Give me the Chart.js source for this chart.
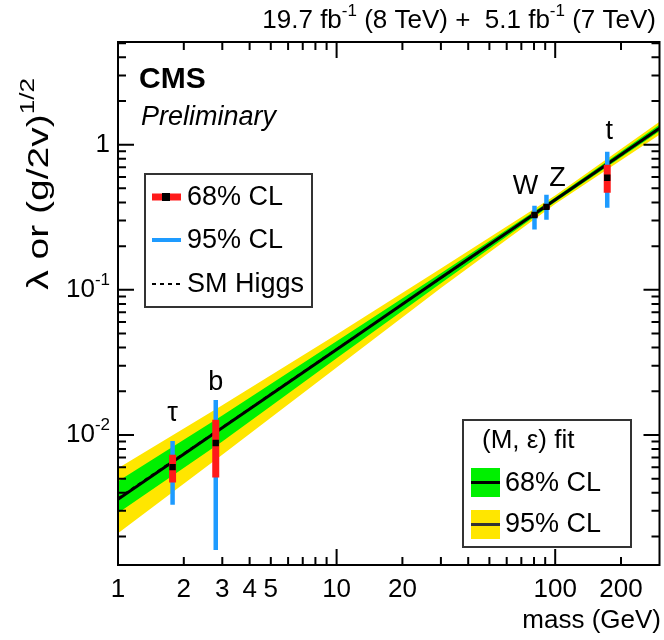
<!DOCTYPE html>
<html>
<head>
<meta charset="utf-8">
<script src="https://cdn.jsdelivr.net/npm/chart.js@4.4.1/dist/chart.umd.min.js"></script>
<style>
  body { margin: 0; background: #fff; }
  #wrap { width: 664px; height: 640px; }
</style>
</head>
<body>
<div id="wrap"><canvas id="myChart" width="664" height="640"></canvas></div>
<script>
// measured couplings
const particles = ['τ', 'b', 'W', 'Z', 't'];
const masses = [1.777, 2.8, 80.4, 91.2, 173];
const central = [0.0060, 0.0088, 0.328, 0.373, 0.592];
const cl68Lo = [0.0047, 0.0051, 0.318, 0.362, 0.467];
const cl68Hi = [0.0073, 0.0127, 0.338, 0.384, 0.728];
const cl95Lo = [0.0033, 0.00161, 0.26, 0.304, 0.368];
const cl95Hi = [0.0091, 0.0174, 0.38, 0.452, 0.895];

// (M, eps) fit and its bands
const fitMass = [1, 3, 10, 30, 100, 300];
const fitLine = [0.0036, 0.0112, 0.0388, 0.121, 0.418, 1.30];
const band68Hi = [0.0048, 0.0136, 0.0442, 0.130, 0.433, 1.37];
const band68Lo = [0.0029, 0.0090, 0.0337, 0.111, 0.403, 1.24];
const band95Hi = [0.0059, 0.0160, 0.0493, 0.140, 0.447, 1.44];
const band95Lo = [0.0021, 0.0073, 0.0291, 0.103, 0.390, 1.17];

// SM Higgs expectation
const smMass = [1, 300];
const smValue = [0.00365, 1.29];

const xTicks = [1, 2, 3, 4, 5, 10, 20, 100, 200];
const yTicks = [0.01, 0.1, 1];
const yTickBase = ['10', '10', '1'];
const yTickExp = ['-2', '-1', ''];

const FONT = '"Liberation Sans", Arial, Helvetica, sans-serif';
const YELLOW = '#ffe600';
const GREEN = '#00f000';
const BLUE = '#1e9bff';
const RED = '#ff1a1a';

const pts = (xs, ys) => xs.map((x, i) => ({ x: x, y: ys[i] }));

const datasets = [
  { data: pts(fitMass, band95Hi), fill: '+1', backgroundColor: YELLOW, borderWidth: 0, pointRadius: 0, order: 20 },
  { data: pts(fitMass, band95Lo), fill: false, borderWidth: 0, pointRadius: 0, order: 20 },
  { data: pts(fitMass, band68Hi), fill: '+1', backgroundColor: GREEN, borderWidth: 0, pointRadius: 0, order: 19 },
  { data: pts(fitMass, band68Lo), fill: false, borderWidth: 0, pointRadius: 0, order: 19 },
  { data: pts(fitMass, fitLine), borderColor: '#000', borderWidth: 3, pointRadius: 0, order: 10 },
  { data: pts(smMass, smValue), borderColor: '#000', borderWidth: 2, borderDash: [4, 4], pointRadius: 0, order: 9 }
];

masses.forEach((m, i) => {
  datasets.push({ data: [{ x: m, y: cl95Lo[i] }, { x: m, y: cl95Hi[i] }],
    borderColor: BLUE, borderWidth: 4.5, borderCapStyle: 'butt', pointRadius: 0, order: 5 });
  datasets.push({ data: [{ x: m, y: cl68Lo[i] }, { x: m, y: cl68Hi[i] }],
    borderColor: RED, borderWidth: 7, borderCapStyle: 'butt', pointRadius: 0, order: 4 });
});
datasets.push({ data: pts(masses, central), showLine: false, pointStyle: 'rect',
  pointRadius: 4.5, backgroundColor: '#000', borderWidth: 0, order: 1 });

// text with superscripts: parts = [[text, isSup], ...]
function supText(ctx, parts, x, y, size, align) {
  const widths = parts.map(p => {
    ctx.font = (p[1] ? Math.round(size * 0.65) : size) + 'px ' + FONT;
    return ctx.measureText(p[0]).width;
  });
  const total = widths.reduce((a, b) => a + b, 0);
  let cx = align === 'right' ? x - total : align === 'center' ? x - total / 2 : x;
  ctx.textAlign = 'left';
  ctx.textBaseline = 'middle';
  parts.forEach((p, i) => {
    ctx.font = (p[1] ? Math.round(size * 0.65) : size) + 'px ' + FONT;
    ctx.fillText(p[0], cx, p[1] ? y - size * 0.38 : y);
    cx += widths[i];
  });
  return total;
}

const decorations = {
  id: 'decorations',
  afterDraw(chart) {
    const ctx = chart.ctx;
    const xs = chart.scales.x, ys = chart.scales.y;
    const a = chart.chartArea;
    ctx.save();
    ctx.fillStyle = '#000';
    ctx.strokeStyle = '#000';
    ctx.lineWidth = 2;

    // tick marks on all four sides
    ctx.beginPath();
    [1, 10, 100].forEach(d => {
      for (let k = 1; k < 10; k++) {
        const v = k * d;
        if (v <= xs.min || v >= xs.max) continue;
        const px = xs.getPixelForValue(v);
        const len = k === 1 ? 16 : 8;
        ctx.moveTo(px, a.bottom); ctx.lineTo(px, a.bottom - len);
        ctx.moveTo(px, a.top); ctx.lineTo(px, a.top + len);
      }
    });
    [0.001, 0.01, 0.1, 1].forEach(d => {
      for (let k = 1; k < 10; k++) {
        const v = k * d;
        if (v <= ys.min || v >= ys.max) continue;
        const py = ys.getPixelForValue(v);
        const len = k === 1 ? 16 : 8;
        ctx.moveTo(a.left, py); ctx.lineTo(a.left + len, py);
        ctx.moveTo(a.right, py); ctx.lineTo(a.right - len, py);
      }
    });
    ctx.stroke();
    ctx.strokeRect(a.left, a.top, a.right - a.left, a.bottom - a.top);

    // y tick labels
    yTicks.forEach((v, i) => {
      const py = ys.getPixelForValue(v);
      supText(ctx, [[yTickBase[i], false], [yTickExp[i], true]], 110, py, 26, 'right');
    });

    // particle labels
    const lblOff = [[0, -27], [0, -17], [-9, -19], [11, -16], [2, -20]];
    ctx.textAlign = 'center';
    ctx.textBaseline = 'middle';
    particles.forEach((p, i) => {
      ctx.font = '27px ' + FONT;
      ctx.fillText(p, xs.getPixelForValue(masses[i]) + lblOff[i][0],
        ys.getPixelForValue(cl95Hi[i]) + lblOff[i][1]);
    });

    // CMS Preliminary
    ctx.textAlign = 'left';
    ctx.font = 'bold 30px ' + FONT;
    ctx.fillText('CMS', 139, 80);
    ctx.font = 'italic 27px ' + FONT;
    ctx.fillText('Preliminary', 141, 117);

    // luminosity
    supText(ctx, [['19.7 fb', false], ['-1', true], [' (8 TeV) +  5.1 fb', false], ['-1', true], [' (7 TeV)', false]],
      656, 21, 26, 'right');

    // axis titles
    ctx.font = '26px ' + FONT;
    ctx.textAlign = 'right';
    ctx.fillText('mass (GeV)', 661, 621);
    ctx.save();
    ctx.translate(40, 184);
    ctx.rotate(-Math.PI / 2);
    ctx.scale(1.3, 1);
    supText(ctx, [['λ or (g/2v)', false], ['1/2', true]], 0, 0, 30, 'center');
    ctx.restore();

    // left legend
    ctx.strokeStyle = '#333';
    ctx.lineWidth = 2;
    ctx.strokeRect(145, 174, 167, 133);
    ctx.lineCap = 'butt';
    ctx.strokeStyle = RED; ctx.lineWidth = 7;
    ctx.beginPath(); ctx.moveTo(152, 197); ctx.lineTo(181, 197); ctx.stroke();
    ctx.fillStyle = '#000'; ctx.fillRect(162, 193, 8, 8);
    ctx.strokeStyle = BLUE; ctx.lineWidth = 4;
    ctx.beginPath(); ctx.moveTo(152, 240); ctx.lineTo(181, 240); ctx.stroke();
    ctx.strokeStyle = '#000'; ctx.lineWidth = 2; ctx.setLineDash([4, 4]);
    ctx.beginPath(); ctx.moveTo(152, 284); ctx.lineTo(181, 284); ctx.stroke();
    ctx.setLineDash([]);
    ctx.font = '27px ' + FONT;
    ctx.textAlign = 'left';
    ctx.fillText('68% CL', 187, 198);
    ctx.fillText('95% CL', 187, 241);
    ctx.fillText('SM Higgs', 187, 285);

    // right legend
    ctx.strokeStyle = '#333';
    ctx.lineWidth = 2;
    ctx.strokeRect(463, 420, 168, 127);
    ctx.font = '26px ' + FONT;
    ctx.fillText('(M, ε) fit', 482, 441);
    ctx.fillStyle = GREEN; ctx.fillRect(471, 468, 29, 29);
    ctx.fillStyle = YELLOW; ctx.fillRect(471, 510, 29, 29);
    ctx.fillStyle = '#000'; ctx.fillRect(471, 481, 29, 3);
    ctx.fillStyle = '#333'; ctx.fillRect(471, 523, 29, 3);
    ctx.fillStyle = '#000';
    ctx.font = '27px ' + FONT;
    ctx.fillText('68% CL', 505, 484);
    ctx.fillText('95% CL', 505, 525);
    ctx.restore();
  }
};

const config = {
  type: 'line',
  data: { datasets: datasets },
  options: {
    responsive: false,
    animation: false,
    layout: { padding: { left: 118, top: 42, right: 2, bottom: 0 } },
    scales: {
      x: {
        type: 'logarithmic',
        min: 1,
        max: 300,
        grid: { display: false, drawTicks: false },
        border: { display: false },
        afterBuildTicks: s => { s.ticks = xTicks.map(v => ({ value: v })); },
        afterFit: s => { s.height = 75; },
        ticks: {
          autoSkip: false,
          maxRotation: 0,
          padding: 9,
          color: '#000',
          font: { family: FONT, size: 26 },
          callback: v => String(v)
        }
      },
      y: {
        type: 'logarithmic',
        min: 0.00127,
        max: 5.1,
        grid: { display: false, drawTicks: false },
        border: { display: false },
        ticks: { display: false },
        afterFit: s => { s.width = 0; }
      }
    },
    plugins: {
      legend: { display: false },
      tooltip: { enabled: false }
    }
  },
  plugins: [decorations]
};

window.onload = function() {
  const ctx = document.getElementById('myChart').getContext('2d');
  new Chart(ctx, config);
};
</script>
</body>
</html>
